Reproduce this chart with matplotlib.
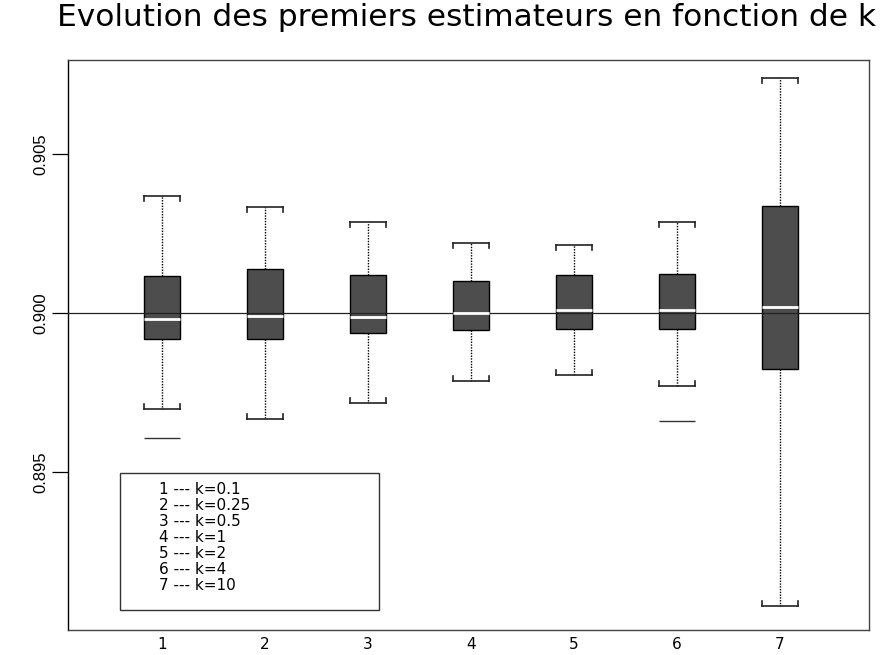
import matplotlib
matplotlib.use("Agg")
import matplotlib.pyplot as plt
from matplotlib.patches import Rectangle

# Values
groups = [1, 2, 3, 4, 5, 6, 7]
q1 = [0.89917, 0.89917, 0.89936, 0.89948, 0.89951, 0.89951, 0.89825]
med = [0.89980, 0.89990, 0.89987, 0.89999, 0.90009, 0.90009, 0.90019]
q3 = [0.90117, 0.90138, 0.90120, 0.90101, 0.90120, 0.90122, 0.90335]
wlo = [0.89697, 0.89667, 0.89718, 0.89787, 0.89804, 0.89771, 0.89078]
whi = [0.90369, 0.90332, 0.90286, 0.90221, 0.90215, 0.90286, 0.90738]
outliers = [[0.89606], [], [], [], [], [0.89660], []]
legend_lines = ["1 --- k=0.1", "2 --- k=0.25", "3 --- k=0.5", "4 --- k=1",
                "5 --- k=2", "6 --- k=4", "7 --- k=10"]
yticks = [0.895, 0.900, 0.905]
title = "Evolution des premiers estimateurs en fonction de k"

BOX_W = 0.35
BOX_FILL = "#4d4d4d"
PX_PER_UNIT = 31800  # vertical pixels per data unit

fig = plt.figure(figsize=(8.87, 6.55), dpi=100)
ax = fig.add_axes([0.0767, 0.0382, 0.9030, 0.8702])

stats = []
for i in range(len(groups)):
    stats.append({"med": med[i], "q1": q1[i], "q3": q3[i],
                  "whislo": wlo[i], "whishi": whi[i], "fliers": outliers[i]})

ax.bxp(stats, positions=groups, widths=BOX_W, patch_artist=True,
       showfliers=True, capwidths=BOX_W,
       boxprops=dict(facecolor=BOX_FILL, edgecolor="black", linewidth=1.0),
       medianprops=dict(color="white", linewidth=2.0, zorder=4),
       whiskerprops=dict(color="black", linestyle=(0, (1, 1)), linewidth=1.0),
       capprops=dict(color="#222222", linewidth=1.2),
       flierprops=dict(marker="_", markersize=26, markeredgecolor="#333333",
                       markeredgewidth=1.0))

# little brackets at the ends of the caps
tick = 5 / PX_PER_UNIT
for i, g in enumerate(groups):
    for xe in (g - BOX_W / 2, g + BOX_W / 2):
        ax.plot([xe, xe], [whi[i], whi[i] - tick], color="#222222", lw=1.2)
        ax.plot([xe, xe], [wlo[i], wlo[i] + tick], color="#222222", lw=1.2)

ax.axhline(0.900, color="#222222", linewidth=0.9, zorder=3)

ax.set_xlim(0.087, 7.864)
ax.set_ylim(0.890031, 0.907956)

ax.set_yticks(yticks)
ax.set_yticklabels([f"{v:.3f}" for v in yticks], rotation=90, va="center",
                   family=["Liberation Sans Narrow", "Liberation Sans"], fontsize=12)
ax.tick_params(axis="y", direction="out", length=11.5, width=0.9, pad=3)
ax.set_xticks(groups)
ax.set_xticklabels([str(g) for g in groups], fontsize=11, family="DejaVu Sans")
ax.tick_params(axis="x", length=0, pad=5)

for side in ("top", "right", "bottom"):
    ax.spines[side].set_color("#444444")
ax.spines["left"].set_color("black")
for sp in ax.spines.values():
    sp.set_linewidth(1.0)

# legend box in the lower left
lx0, lx1 = 0.592, 3.104
ly0, ly1 = 0.89066, 0.89498
ax.add_patch(Rectangle((lx0, ly0), lx1 - lx0, ly1 - ly0, fill=False,
                       edgecolor="#333333", linewidth=1.0, zorder=5))
for j, txt in enumerate(legend_lines):
    ax.text(0.97, ly1 - (17 + j * 16) / PX_PER_UNIT, txt, fontsize=11,
            family="DejaVu Sans", va="center", ha="left", zorder=6)

fig.text(0.5265, 1 - 18 / 655, title, fontsize=22.5, family="DejaVu Sans",
         ha="center", va="center")

fig.savefig("out.png", dpi=100)
